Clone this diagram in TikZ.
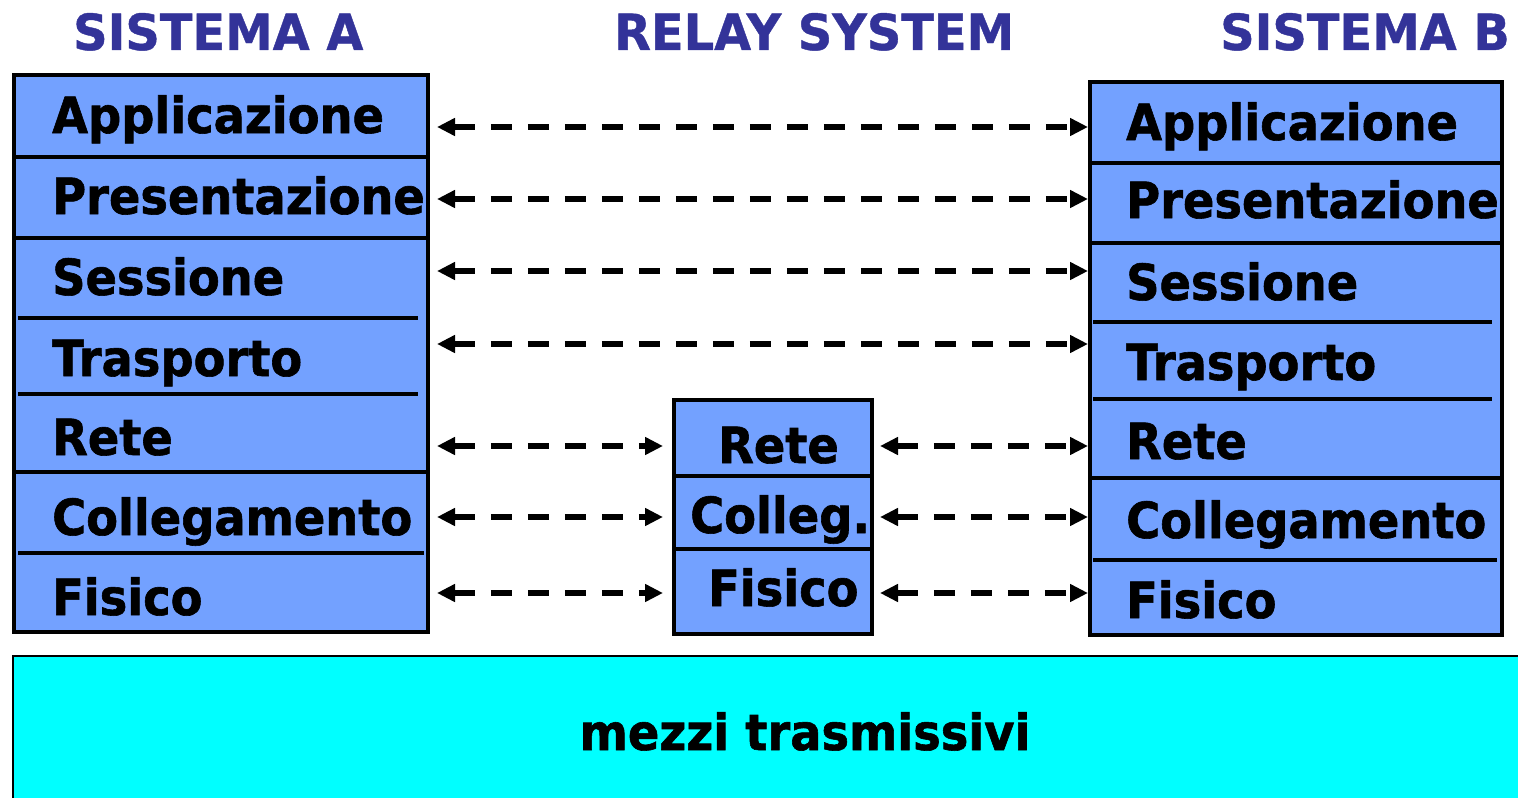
\documentclass[tikz,border=0pt]{standalone}
\usepackage{fontspec}
\setmainfont{DejaVu Sans}
\newfontfamily\labfont{DejaVu Sans}[FakeStretch=0.93,FakeBold=1.2]
\newfontfamily\titlefont{DejaVu Sans}[FakeStretch=0.96,FakeBold=0.8]
\usetikzlibrary{arrows.meta}
\definecolor{layerblue}{RGB}{115,161,255}
\definecolor{titleblue}{RGB}{51,51,153}
\definecolor{medium}{RGB}{0,255,255}

\begin{document}
\begin{tikzpicture}[x=1bp,y=-1bp,
  stack/.style={draw=black, line width=4bp, fill=layerblue, rectangle,
    inner sep=0, anchor=north west},
  sep/.style={line width=4bp},
  lab/.style={anchor=base west, inner sep=0,
    font=\labfont\bfseries\fontsize{50}{50}\selectfont},
  ttl/.style={anchor=base west, inner sep=0, text=titleblue,
    font=\titlefont\bfseries\fontsize{50}{50}\selectfont},
  link/.style={line width=5.5bp, dash pattern=on 21bp off 16bp,
    {Triangle[length=18bp,width=17bp]}-{Triangle[length=18bp,width=17bp]}},
]
\useasboundingbox (0,0) rectangle (1518,797);
\clip (0,0) rectangle (1518,797);

% transmission medium
\node[draw=black, line width=2bp, fill=medium, rectangle, inner sep=0,
  anchor=north west, minimum width=1530bp, minimum height=160bp]
  (medium) at (12,655) {};
\node[lab, anchor=base] (mediumlab) at (805,750) {mezzi trasmissivi};

% titles
\node[ttl] (titA) at (73,50) {SISTEMA A};
\node[ttl] (titR) at (614,50) {RELAY SYSTEM};
\node[ttl] (titB) at (1220,50) {SISTEMA B};

% system A stack
\node[stack, minimum width=414bp, minimum height=557bp] (stackA) at (12,73) {};
\foreach \y in {157,238,472} \draw[sep] (12,\y) -- (426,\y);
\foreach \y in {318,394} \draw[sep] (18,\y) -- (418,\y);
\draw[sep] (18,553) -- (424,553);
\node[lab] (aApp)  at (52,133) {Applicazione};
\node[lab] (aPres) at (52,214) {Presentazione};
\node[lab] (aSess) at (52,295) {Sessione};
\node[lab] (aTras) at (52,376) {Trasporto};
\node[lab] (aRete) at (52,455) {Rete};
\node[lab] (aColl) at (52,535) {Collegamento};
\node[lab] (aFis)  at (52,615) {Fisico};

% relay stack
\node[stack, minimum width=198bp, minimum height=234bp] (stackR) at (672,398) {};
\foreach \y in {476,549} \draw[sep] (672,\y) -- (870,\y);
\node[lab] (rRete) at (718,463) {Rete};
\node[lab] (rColl) at (690,533) {Colleg.};
\node[lab] (rFis)  at (708,606) {Fisico};

% system B stack
\node[stack, minimum width=412bp, minimum height=553bp] (stackB) at (1088,80) {};
\foreach \y in {163,243,478} \draw[sep] (1088,\y) -- (1500,\y);
\foreach \y in {322,399} \draw[sep] (1093,\y) -- (1492,\y);
\draw[sep] (1093,560) -- (1497,560);
\node[lab] (bApp)  at (1126,140) {Applicazione};
\node[lab] (bPres) at (1126,218) {Presentazione};
\node[lab] (bSess) at (1126,300) {Sessione};
\node[lab] (bTras) at (1126,380) {Trasporto};
\node[lab] (bRete) at (1126,459) {Rete};
\node[lab] (bColl) at (1126,538) {Collegamento};
\node[lab] (bFis)  at (1126,618) {Fisico};

% peer-to-peer link ends
\coordinate (pA1) at (437,127);  \coordinate (pB1) at (1088,127);
\coordinate (pA2) at (437,199);  \coordinate (pB2) at (1088,199);
\coordinate (pA3) at (437,271);  \coordinate (pB3) at (1088,271);
\coordinate (pA4) at (437,344);  \coordinate (pB4) at (1088,344);
\coordinate (pA5) at (437,446);  \coordinate (pR5a) at (663,446);
\coordinate (pA6) at (437,517);  \coordinate (pR6a) at (663,517);
\coordinate (pA7) at (437,593);  \coordinate (pR7a) at (663,593);
\coordinate (pR5b) at (880,446); \coordinate (pB5) at (1088,446);
\coordinate (pR6b) at (880,517); \coordinate (pB6) at (1088,517);
\coordinate (pR7b) at (880,593); \coordinate (pB7) at (1088,593);

\draw[link] (pA1) -- (pB1);
\draw[link] (pA2) -- (pB2);
\draw[link] (pA3) -- (pB3);
\draw[link] (pA4) -- (pB4);
\draw[link] (pA5) -- (pR5a);
\draw[link] (pA6) -- (pR6a);
\draw[link] (pA7) -- (pR7a);
\draw[link] (pR5b) -- (pB5);
\draw[link] (pR6b) -- (pB6);
\draw[link] (pR7b) -- (pB7);
\end{tikzpicture}
\end{document}
